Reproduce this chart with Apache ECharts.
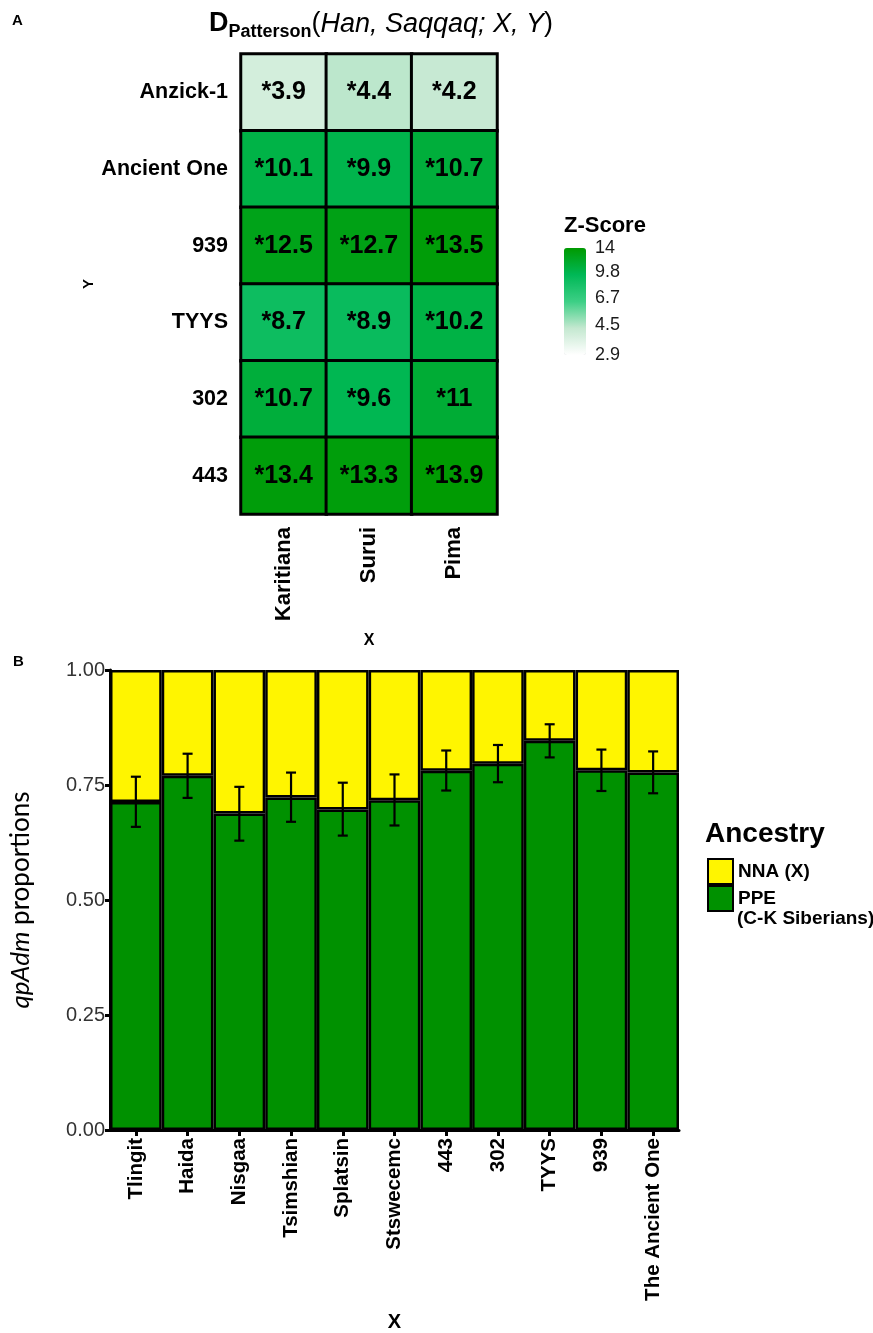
<!DOCTYPE html>
<html>
<head>
<meta charset="utf-8">
<script src="https://cdn.jsdelivr.net/npm/echarts@6/dist/echarts.min.js"></script>
<style>html,body{margin:0;padding:0;background:#fff}#c{width:873px;height:1333px}</style>
</head>
<body>
<div id="c"></div>
<script>
// ---------- Panel A data ----------
const heatCols = ['Karitiana', 'Surui', 'Pima'];
const heatRows = ['Anzick-1', 'Ancient One', '939', 'TYYS', '302', '443'];
const zKaritiana = [3.9, 10.1, 12.5, 8.7, 10.7, 13.4];
const zSurui     = [4.4, 9.9, 12.7, 8.9, 9.6, 13.3];
const zPima      = [4.2, 10.7, 13.5, 10.2, 11, 13.9];
const zTickLabels = [14, 9.8, 6.7, 4.5, 2.9];
const zMin = 2.9, zMax = 14;

// ---------- Panel B data ----------
const barCats = ['Tlingit', 'Haida', 'Nisgaa', 'Tsimshian', 'Splatsin', 'Stswecemc', '443', '302', 'TYYS', '939', 'The Ancient One'];
const ppe     = [0.713, 0.770, 0.688, 0.723, 0.697, 0.717, 0.781, 0.796, 0.846, 0.782, 0.777];
const ppeLow  = [0.659, 0.722, 0.629, 0.670, 0.640, 0.662, 0.738, 0.756, 0.810, 0.737, 0.732];
const ppeHigh = [0.768, 0.818, 0.746, 0.777, 0.755, 0.773, 0.825, 0.837, 0.882, 0.827, 0.823];
const yTicks = [0, 0.25, 0.5, 0.75, 1];

const FONT = 'Liberation Sans, Arial, sans-serif';
const GREEN = '#009100', YELLOW = '#fff500';

const zCols = [zKaritiana, zSurui, zPima];
const heatData = [];
zCols.forEach((col, xi) => col.forEach((v, yi) => heatData.push([xi, yi, v, Math.log(v)])));
const nna = ppe.map(v => 1 - v);

// colorbar geometry
const cbTop = 248, cbH = 107, cbLeft = 564, cbW = 22;
const lMin = Math.log(zMin), lMax = Math.log(zMax);
const zLabelGraphics = zTickLabels.map(v => ({
  type: 'text',
  style: {
    text: String(v),
    x: cbLeft + cbW + 9,
    y: cbTop + cbH * (lMax - Math.log(v)) / (lMax - lMin),
    verticalAlign: 'middle', align: 'left',
    font: '18px ' + FONT, fill: '#1a1a1a'
  }
}));

const chart = echarts.init(document.getElementById('c'), null, {renderer: 'canvas'});
chart.setOption({
  animation: false,
  backgroundColor: '#fff',
  grid: [
    {left: 241, width: 256, top: 54, height: 460},
    {left: 109, width: 570, top: 670, height: 473}
  ],
  xAxis: [
    {
      gridIndex: 0, type: 'category', data: heatCols, position: 'bottom',
      axisLine: {show: false}, axisTick: {show: false}, splitLine: {show: false},
      axisLabel: {rotate: 90, margin: 13, fontSize: 22, fontWeight: 'bold', color: '#000', fontFamily: FONT},
      name: 'X', nameLocation: 'middle', nameGap: 119,
      nameTextStyle: {fontSize: 16, fontWeight: 'bold', color: '#000', fontFamily: FONT}
    },
    {
      gridIndex: 1, type: 'category', data: barCats,
      axisLine: {lineStyle: {color: '#000', width: 3}},
      axisTick: {show: true, alignWithLabel: true, length: 6, lineStyle: {color: '#000', width: 3}},
      axisLabel: {rotate: 90, margin: 8, fontSize: 20.5, fontWeight: 'bold', color: '#000', fontFamily: FONT, interval: 0},
      name: 'X', nameLocation: 'middle', nameGap: 182,
      nameTextStyle: {fontSize: 20, fontWeight: 'bold', color: '#000', fontFamily: FONT}
    }
  ],
  yAxis: [
    {
      gridIndex: 0, type: 'category', data: heatRows, inverse: true,
      axisLine: {show: false}, axisTick: {show: false}, splitLine: {show: false},
      axisLabel: {margin: 13, fontSize: 21.5, fontWeight: 'bold', color: '#000', fontFamily: FONT},
      name: 'Y', nameLocation: 'middle', nameGap: 145, nameRotate: 90,
      nameTextStyle: {fontSize: 15, fontWeight: 'bold', color: '#000', fontFamily: FONT}
    },
    {
      gridIndex: 1, type: 'value', min: yTicks[0], max: yTicks[yTicks.length - 1], interval: 0.25,
      splitLine: {show: false},
      axisLine: {show: true, lineStyle: {color: '#000', width: 3}},
      axisTick: {show: true, length: 5, lineStyle: {color: '#000', width: 3}},
      axisLabel: {margin: 5, fontSize: 20, color: '#333', fontFamily: FONT, formatter: v => v.toFixed(2)},
      name: '{i|qpAdm} proportions', nameLocation: 'middle', nameGap: 76, nameRotate: 90,
      nameTextStyle: {
        fontSize: 26, color: '#000', fontFamily: 'Lato',
        rich: {i: {fontSize: 26, fontStyle: 'italic', fontFamily: 'Lato', color: '#000'}}
      }
    }
  ],
  visualMap: {
    type: 'continuous', seriesIndex: 0, dimension: 3,
    min: lMin, max: lMax, calculable: false, text: null, show: true,
    orient: 'vertical', left: cbLeft, top: cbTop, itemWidth: cbW, itemHeight: cbH, padding: 0,
    inRange: {color: ['#ffffff', '#c4e8d0', '#3ccf85', '#00b856', '#009a00']}
  },
  legend: {
    data: ['NNA (X)', 'PPE'], orient: 'vertical', left: 707, top: 858, padding: 0,
    itemWidth: 25, itemHeight: 25, itemGap: 0, icon: 'rect', selectedMode: false,
    textStyle: {fontSize: 19, fontWeight: 'bold', color: '#000', fontFamily: FONT}
  },
  series: [
    {
      type: 'heatmap', xAxisIndex: 0, yAxisIndex: 0, data: heatData,
      encode: {x: 0, y: 1},
      itemStyle: {borderColor: '#000', borderWidth: 3},
      label: {show: true, formatter: p => '*' + p.value[2], fontSize: 25, fontWeight: 'bold', color: '#000', fontFamily: FONT},
      emphasis: {disabled: true}
    },
    {
      name: 'PPE', type: 'bar', xAxisIndex: 1, yAxisIndex: 1, stack: 'anc', data: ppe,
      barWidth: '100%', barCategoryGap: '0%',
      itemStyle: {color: GREEN, borderColor: '#000', borderWidth: 2.5}
    },
    {
      name: 'NNA (X)', type: 'bar', xAxisIndex: 1, yAxisIndex: 1, stack: 'anc', data: nna,
      barWidth: '100%', barCategoryGap: '0%',
      itemStyle: {color: YELLOW, borderColor: '#000', borderWidth: 2.5}
    },
    {
      type: 'custom', xAxisIndex: 1, yAxisIndex: 1, z: 10,
      data: barCats.map((c, i) => [i, ppeLow[i], ppeHigh[i]]),
      encode: {x: 0, y: [1, 2]},
      renderItem: (params, api) => {
        const lo = api.coord([api.value(0), api.value(1)]);
        const hi = api.coord([api.value(0), api.value(2)]);
        const w = 5;
        const st = {stroke: '#000', lineWidth: 2.2};
        return {
          type: 'group',
          children: [
            {type: 'line', shape: {x1: lo[0], y1: lo[1], x2: hi[0], y2: hi[1]}, style: st},
            {type: 'line', shape: {x1: lo[0] - w, y1: lo[1], x2: lo[0] + w, y2: lo[1]}, style: st},
            {type: 'line', shape: {x1: hi[0] - w, y1: hi[1], x2: hi[0] + w, y2: hi[1]}, style: st}
          ]
        };
      }
    }
  ],
  graphic: [
    {type: 'text', style: {text: 'A', x: 12, y: 21, verticalAlign: 'middle', font: 'bold 15px ' + FONT, fill: '#000'}},
    {type: 'text', style: {text: 'B', x: 13, y: 662, verticalAlign: 'middle', font: 'bold 15px ' + FONT, fill: '#000'}},
    {
      type: 'text',
      style: {
        text: '{d|D}{s|Patterson}{p|(}{i|Han, Saqqaq; X, Y}{p|)}',
        x: 381, y: 24, align: 'center', verticalAlign: 'middle',
        rich: {
          d: {fontSize: 27, fontWeight: 'bold', fontFamily: FONT, fill: '#000', lineHeight: 34},
          s: {fontSize: 18, fontWeight: 'bold', fontFamily: FONT, fill: '#000', lineHeight: 20, verticalAlign: 'bottom', padding: [12, 0, 0, 0]},
          p: {fontSize: 27, fontFamily: FONT, fill: '#000', lineHeight: 34},
          i: {fontSize: 27, fontStyle: 'italic', fontFamily: FONT, fill: '#000', lineHeight: 34}
        }
      }
    },
    {type: 'text', style: {text: 'Z-Score', x: 564, y: 226, verticalAlign: 'middle', font: 'bold 22px ' + FONT, fill: '#000'}},
    ...zLabelGraphics,
    {type: 'text', style: {text: 'Ancestry', x: 705, y: 834, verticalAlign: 'middle', font: 'bold 28px ' + FONT, fill: '#000'}},
    {type: 'text', style: {text: '(C-K Siberians)', x: 737, y: 919, verticalAlign: 'middle', font: 'bold 19px ' + FONT, fill: '#000'}}
  ]
});
</script>
</body>
</html>
